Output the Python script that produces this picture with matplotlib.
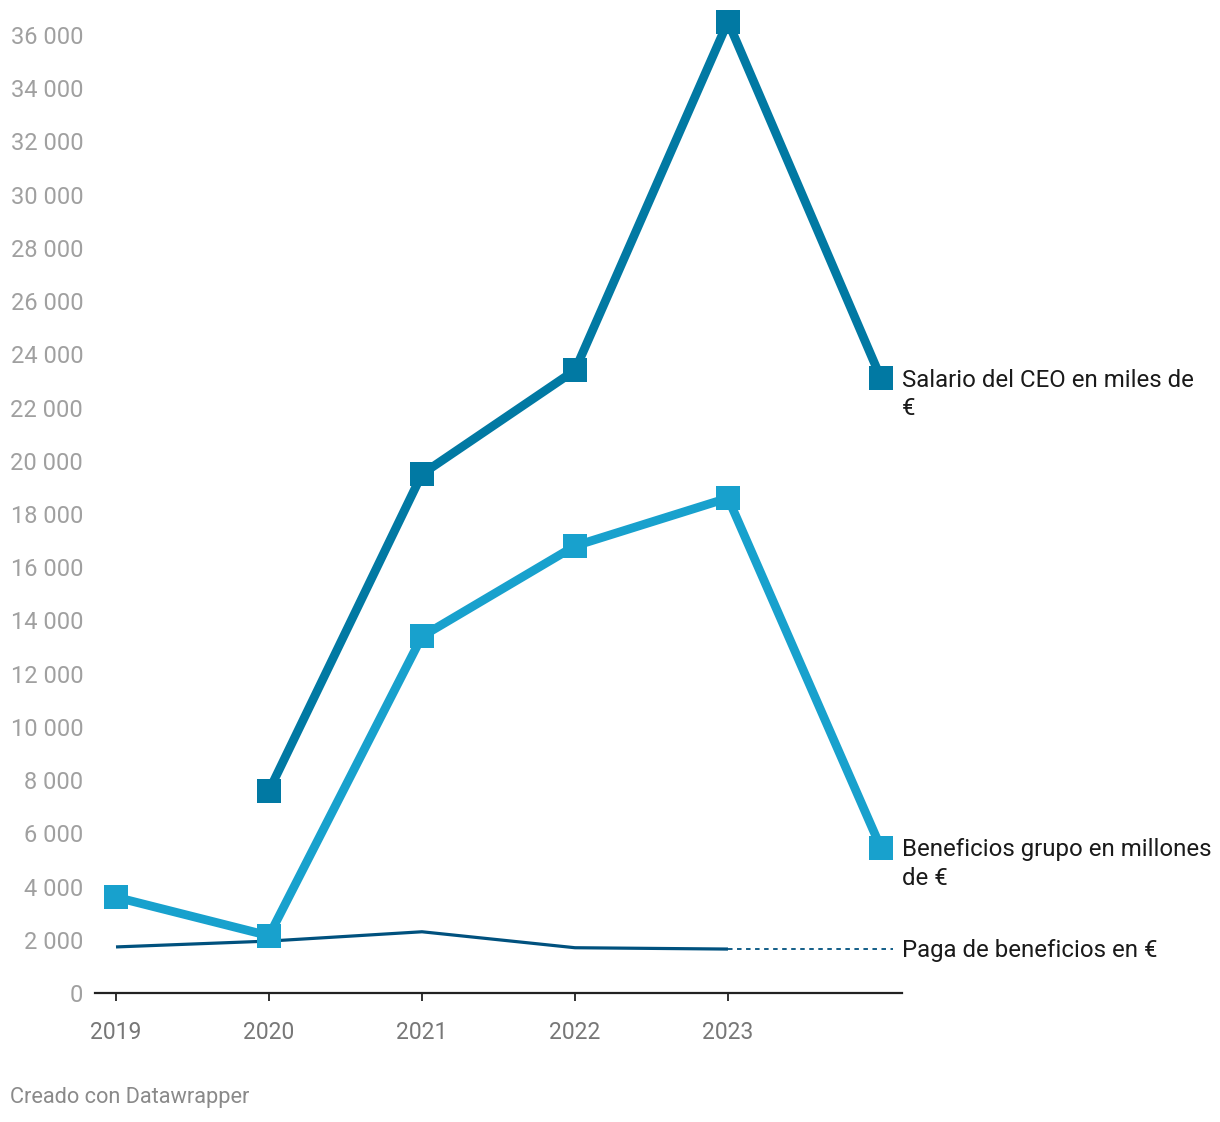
import matplotlib.pyplot as plt
import matplotlib.ticker as mticker

plt.rcParams['font.family'] = ['Roboto', 'DejaVu Sans']

# datos
years = [2019, 2020, 2021, 2022, 2023, 2024]
year_labels = ['2019', '2020', '2021', '2022', '2023']
ceo_years = [2020, 2021, 2022, 2023, 2024]
ceo_salary = [7600, 19500, 23400, 36500, 23100]
group_profit = [3600, 2150, 13400, 16800, 18600, 5450]
pay_years = [2019, 2020, 2021, 2022, 2023]
pay_benefit = [1730, 1950, 2300, 1700, 1650]

c_ceo = '#0179a3'
c_profit = '#18a1cd'
c_pay = '#00517e'

fig = plt.figure(figsize=(12.2, 11.22), dpi=100)
ax = fig.add_axes([0.0779, 0.115, 0.7393 - 0.0779, 0.9688 - 0.115])

ax.plot(pay_years, pay_benefit, color=c_pay, lw=2.3, solid_capstyle='butt', zorder=2)
ax.plot([pay_years[-1], 2024.08], [pay_benefit[-1], pay_benefit[-1]], color=c_pay,
        lw=1.3, ls=(0, (2.5, 2.5)), clip_on=False, zorder=2)

ax.plot(years, group_profit, color=c_profit, lw=6.3, marker='s', ms=17.5,
        mew=0, clip_on=False, zorder=3)
ax.plot(ceo_years, ceo_salary, color=c_ceo, lw=6.3, marker='s', ms=17.5,
        mew=0, clip_on=False, zorder=4)

ax.set_xlim(2018.863, 2024.137)
ax.set_ylim(0, 36000)
ax.set_xticks(years[:-1])
ax.set_xticklabels(year_labels)
ax.set_yticks(range(0, 36001, 2000))
ax.yaxis.set_major_formatter(mticker.FuncFormatter(lambda v, p: f'{int(v):,}'.replace(',', ' ')))

for s in ['top', 'right', 'left']:
    ax.spines[s].set_visible(False)
ax.spines['bottom'].set_color('#222222')
ax.spines['bottom'].set_linewidth(1.6)
ax.tick_params(axis='y', length=0, pad=8.5, labelsize=17, labelcolor='#a0a0a0')
ax.tick_params(axis='x', length=6, width=1.3, color='#222222', pad=14,
               labelsize=16.5, labelcolor='#777777')

lab = dict(fontsize=17.3, color='#1a1a1a', ha='left', va='top', linespacing=1.32,
           textcoords='offset points', annotation_clip=False)
ax.annotate('Salario del CEO en miles de\n€', (2024, ceo_salary[-1]), xytext=(15, 7), **lab)
ax.annotate('Beneficios grupo en millones\nde €', (2024, group_profit[-1]), xytext=(15, 7), **lab)
ax.annotate('Paga de beneficios en €', (2024, pay_benefit[-1]), xytext=(15, 7), **lab)

fig.text(10 / 1220, 1 - 1097 / 1122, 'Creado con Datawrapper', fontsize=15.7,
         color='#8a8a8a', ha='left', va='center')

fig.savefig('out.png', dpi=100, facecolor='white')
